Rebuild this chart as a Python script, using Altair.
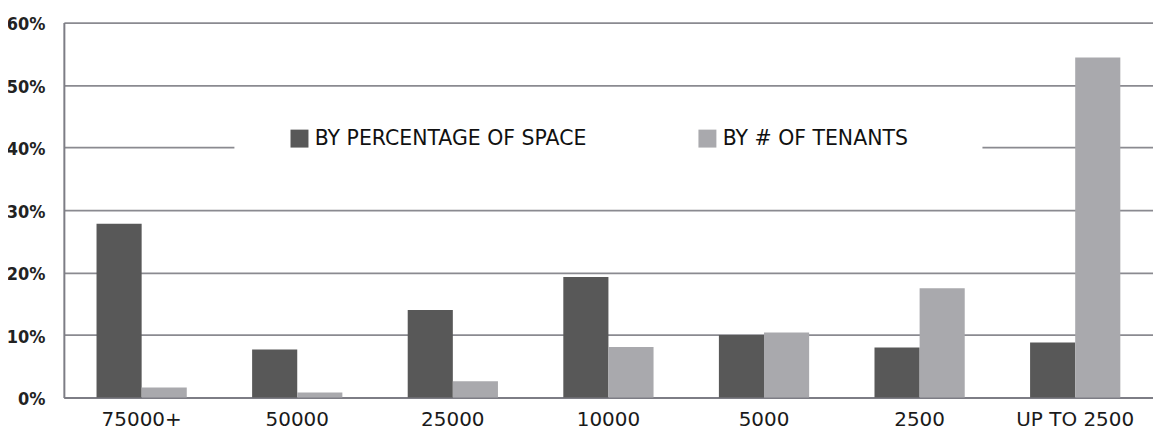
import altair as alt
import pandas as pd

categories = ["75000+", "50000", "25000", "10000", "5000", "2500", "UP TO 2500"]
space_pct = [27.8, 7.7, 14.0, 19.3, 10.0, 8.0, 8.8]
tenants_pct = [1.6, 0.8, 2.6, 8.1, 10.4, 17.5, 54.4]
series_names = ["BY PERCENTAGE OF SPACE", "BY # OF TENANTS"]
series_colors = ["#585858", "#a9a9ad"]
y_ticks = [0, 0.1, 0.2, 0.3, 0.4, 0.5, 0.6]

rows = []
for c, s, t in zip(categories, space_pct, tenants_pct):
    rows.append({"category": c, "series": series_names[0], "value": s / 100})
    rows.append({"category": c, "series": series_names[1], "value": t / 100})
df = pd.DataFrame(rows)

narrow = "Liberation Sans Narrow, DejaVu Sans Condensed, sans-serif"
label_font = "DejaVu Sans, sans-serif"

bars = alt.Chart(df).mark_bar().encode(
    x=alt.X("category:N", sort=categories, title=None,
            scale=alt.Scale(paddingInner=0.42, paddingOuter=0.21),
            axis=alt.Axis(labelAngle=0, labelFont=label_font, labelFontSize=20,
                          labelFontWeight="normal", labelColor="#1a1a1a", labelPadding=12,
                          ticks=False, grid=False, domainColor="#7d7d85", domainWidth=2)),
    xOffset=alt.XOffset("series:N", sort=series_names, scale=alt.Scale(domain=series_names)),
    y=alt.Y("value:Q", title=None,
            scale=alt.Scale(domain=[0, 0.6], nice=False),
            axis=alt.Axis(values=y_ticks, format=".0%", labelFont=narrow, labelFontSize=18,
                          labelFontWeight="bold", labelColor="#222222", labelPadding=19,
                          labelBaseline="middle", labelOffset=2,
                          ticks=False, grid=True, gridColor="#8a8a90", gridWidth=1.8,
                          domainColor="#7d7d85", domainWidth=2)),
    color=alt.Color("series:N", sort=series_names,
                    scale=alt.Scale(domain=series_names, range=series_colors),
                    legend=alt.Legend(title=None, orient="none", legendX=226, legendY=106,
                                      direction="horizontal", symbolType="square",
                                      symbolSize=324, symbolStrokeWidth=0, symbolOpacity=1,
                                      labelFont=label_font, labelFontSize=20.5,
                                      labelFontWeight="normal", labelColor="#111111",
                                      labelOffset=5, labelLimit=400, columnPadding=110,
                                      padding=0)),
)

gap = alt.Chart(pd.DataFrame({"k": [0]})).mark_rect(color="white").encode(
    x=alt.value(171), x2=alt.value(921), y=alt.value(118), y2=alt.value(133)
)

chart = alt.layer(gap, bars).properties(
    width=1092, height=376,
    padding={"left": 56, "top": 14, "right": 0, "bottom": 40},
    autosize=alt.AutoSizeParams(type="none"),
).configure_view(stroke=None)

chart.save("out.html", embed_options={"renderer": "svg", "actions": False})
